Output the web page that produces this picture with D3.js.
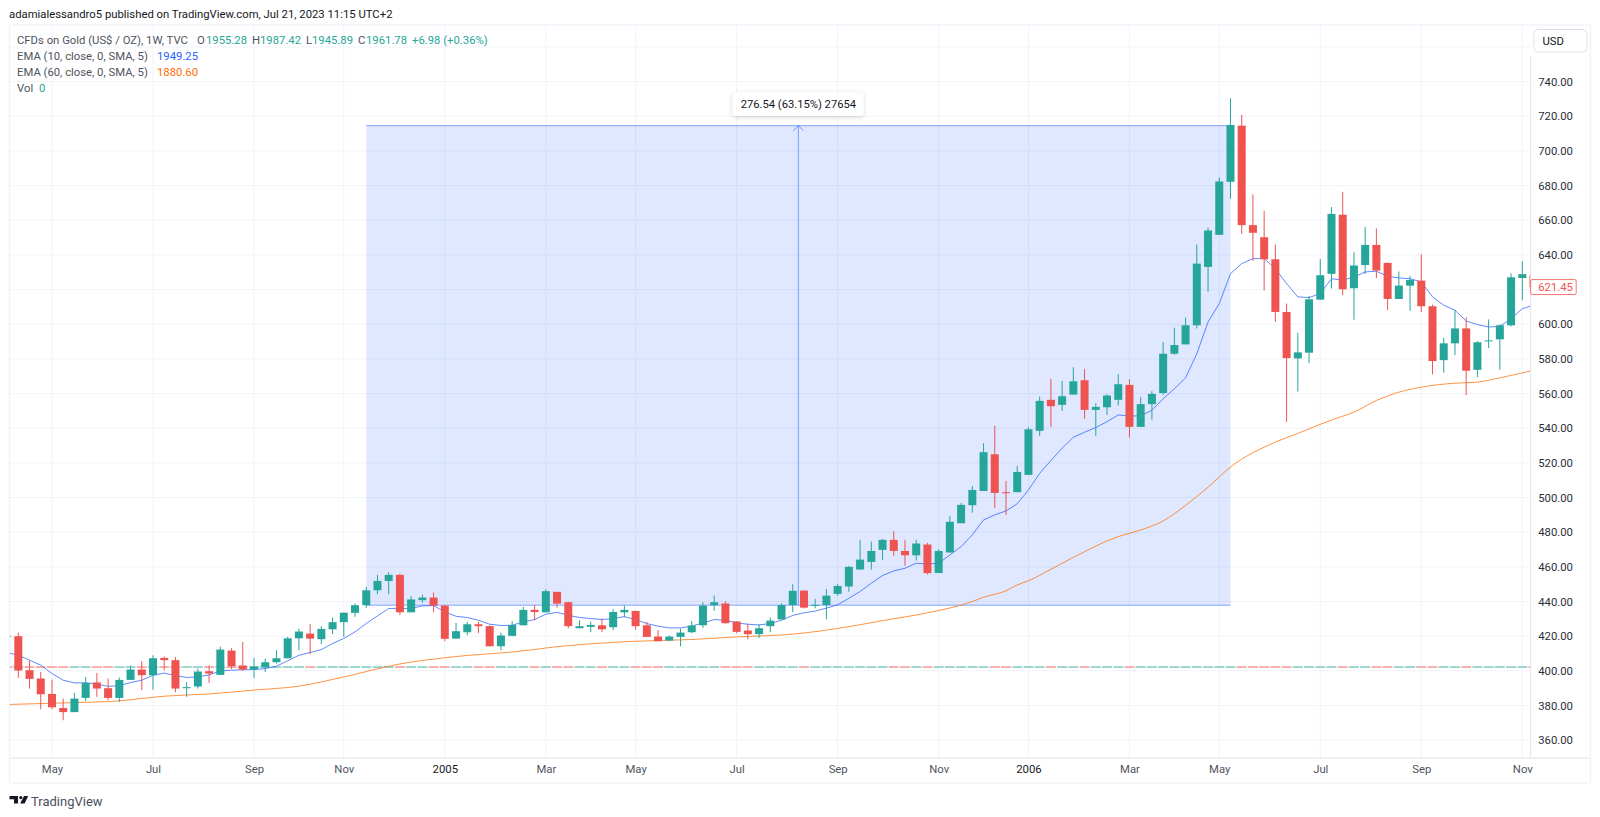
<!DOCTYPE html>
<html>
<head>
<meta charset="utf-8">
<script src="https://cdnjs.cloudflare.com/ajax/libs/d3/7.8.5/d3.min.js"></script>
<style>
html, body { margin: 0; padding: 0; background: #fff; overflow: hidden; }
svg { display: block; font-family: Roboto, sans-serif; }
</style>
</head>
<body>
<script>
// weekly candles, first entry is the one cut off at the left edge
var opens = [
    420.3, 420.0, 400.4, 395.6, 386.7, 378.6, 376.2, 384.4, 393.3, 390.0,
    384.4, 394.8, 400.8, 397.5, 407.5, 406.2, 390.0, 391.0, 399.8, 397.7,
    411.7, 403.1, 400.8, 402.1, 405.0, 407.3, 418.8, 421.5, 418.3, 424.0,
    428.1, 433.5, 437.9, 446.5, 451.9, 455.4, 433.8, 440.8, 442.3, 437.7,
    418.6, 422.3, 426.9, 425.8, 414.2, 420.2, 426.3, 435.2, 433.8, 445.6,
    439.6, 424.6, 425.4, 426.3, 425.2, 433.8, 434.6, 426.3, 419.8, 417.5,
    419.6, 422.3, 426.3, 437.9, 438.9, 428.5, 423.3, 421.2, 425.8, 429.7,
    438.0, 446.3, 437.9, 438.0, 444.4, 448.7, 458.5, 462.9, 469.8, 475.6,
    469.2, 466.7, 472.9, 456.5, 468.3, 485.2, 495.6, 503.8, 525.0, 503.1,
    503.1, 513.1, 538.5, 556.4, 553.5, 559.4, 567.7, 550.6, 552.1, 556.4,
    565.0, 540.8, 553.9, 560.3, 583.0, 588.4, 599.4, 633.1, 651.6, 682.2,
    714.6, 657.2, 650.2, 637.5, 607.1, 580.3, 583.6, 614.2, 629.1, 663.2,
    620.8, 634.2, 645.8, 635.4, 614.6, 622.3, 625.2, 610.4, 579.3, 589.0,
    597.6, 573.7, 590.3, 591.3, 599.4, 626.7, 628.3
];
var highs = [
    420.6, 422.1, 405.8, 399.4, 395.0, 384.0, 387.3, 396.5, 398.8, 395.6,
    396.2, 403.1, 405.6, 409.0, 408.3, 408.1, 393.5, 401.3, 403.1, 414.0,
    413.1, 416.7, 407.5, 407.0, 411.9, 419.6, 424.4, 427.1, 425.8, 430.8,
    433.6, 438.9, 448.5, 455.4, 456.9, 456.2, 443.1, 444.0, 445.2, 437.9,
    427.7, 428.3, 428.3, 426.3, 422.1, 428.7, 436.9, 437.9, 447.1, 445.6,
    439.8, 429.2, 428.3, 430.2, 435.6, 437.7, 434.6, 428.3, 423.5, 420.4,
    424.4, 428.7, 439.6, 443.5, 440.2, 428.7, 427.3, 426.8, 430.8, 439.0,
    450.0, 446.7, 441.5, 447.2, 450.2, 460.6, 475.6, 474.6, 476.2, 480.6,
    475.6, 475.6, 473.9, 470.2, 489.4, 496.9, 506.7, 531.4, 541.5, 509.6,
    518.3, 540.6, 558.3, 568.5, 567.3, 575.2, 574.2, 554.4, 559.6, 571.2,
    568.3, 558.1, 561.4, 589.8, 598.0, 603.8, 646.0, 655.8, 684.7, 730.4,
    720.8, 674.9, 665.5, 646.0, 611.9, 595.1, 616.3, 637.7, 667.6, 676.4,
    641.6, 656.2, 655.3, 635.6, 630.4, 627.9, 640.4, 611.3, 592.2, 608.1,
    604.0, 590.3, 602.8, 600.0, 629.4, 636.4, 629.5
];
var lows = [
    419.6, 396.0, 389.8, 377.9, 377.9, 371.5, 376.2, 382.7, 385.0, 383.1,
    382.1, 394.8, 388.9, 389.2, 400.4, 387.7, 385.0, 389.8, 393.1, 397.7,
    401.0, 400.0, 395.8, 399.4, 404.2, 407.1, 411.9, 409.6, 415.4, 421.2,
    419.6, 431.2, 436.2, 444.2, 444.2, 432.3, 433.8, 439.2, 433.8, 417.1,
    418.6, 420.6, 421.9, 414.2, 411.9, 420.0, 426.3, 429.2, 433.8, 436.5,
    424.6, 424.6, 422.3, 422.3, 423.5, 430.8, 423.8, 419.6, 417.1, 417.1,
    414.2, 421.7, 424.8, 434.6, 427.3, 421.7, 418.1, 419.0, 422.3, 429.7,
    433.8, 436.0, 436.1, 429.7, 443.3, 445.6, 458.5, 458.3, 464.0, 466.5,
    460.6, 463.7, 455.6, 456.4, 468.3, 485.2, 491.2, 503.8, 494.0, 490.0,
    503.1, 513.1, 535.6, 540.6, 550.0, 559.4, 545.4, 535.6, 547.7, 553.1,
    534.6, 540.8, 545.0, 559.3, 582.4, 588.4, 597.6, 618.8, 651.6, 672.4,
    652.2, 636.6, 619.6, 601.5, 543.6, 561.2, 577.6, 614.2, 620.6, 616.7,
    602.6, 628.9, 626.7, 608.1, 614.6, 607.7, 607.1, 571.1, 572.0, 582.2,
    559.1, 569.5, 586.3, 573.7, 598.8, 613.8, 619.0
];
var closes = [
    419.9, 400.2, 395.4, 386.5, 379.0, 376.2, 384.0, 393.1, 389.8, 384.4,
    394.8, 400.8, 397.5, 407.3, 406.2, 389.8, 390.6, 399.6, 398.5, 412.3,
    402.7, 400.8, 402.5, 405.0, 407.3, 418.8, 422.7, 418.6, 424.2, 428.1,
    433.6, 437.9, 446.5, 451.9, 455.4, 433.8, 441.2, 442.3, 437.7, 418.5,
    422.9, 426.9, 425.8, 414.2, 420.4, 426.5, 435.2, 434.0, 446.0, 438.8,
    425.8, 425.8, 426.5, 424.0, 434.0, 435.2, 425.8, 419.6, 417.1, 419.8,
    422.1, 426.2, 437.7, 439.6, 427.5, 422.5, 421.2, 424.6, 429.0, 438.0,
    446.2, 436.5, 438.1, 443.4, 449.0, 460.0, 464.2, 469.2, 475.6, 469.2,
    466.7, 473.5, 456.4, 469.2, 486.0, 495.8, 504.4, 526.2, 502.7, 502.7,
    514.8, 539.4, 555.8, 552.7, 558.5, 567.1, 550.6, 552.3, 558.9, 565.4,
    540.8, 553.9, 559.8, 583.0, 588.0, 599.4, 635.0, 654.1, 682.4, 715.0,
    657.2, 652.8, 637.5, 607.1, 580.5, 583.8, 614.4, 628.3, 663.7, 620.2,
    633.9, 645.8, 631.0, 614.6, 622.3, 625.6, 610.4, 578.8, 589.0, 597.6,
    573.2, 589.6, 590.7, 599.4, 627.1, 628.9, 621.45
];

// EMA 10, one value per candle
var ema10 = [
    410.6, 409.0, 406.2, 403.3, 398.5, 394.6, 393.1, 393.1, 392.3, 391.1,
    391.5, 393.3, 394.6, 397.5, 398.7, 397.3, 396.2, 396.5, 397.7, 400.0,
    400.4, 400.6, 400.8, 401.3, 402.7, 405.8, 409.0, 410.6, 412.3, 415.8,
    418.7, 422.5, 427.3, 431.7, 436.0, 436.1, 436.0, 437.5, 437.7, 434.0,
    431.5, 430.8, 429.2, 426.9, 426.2, 426.3, 428.3, 429.6, 432.7, 433.8,
    432.1, 430.8, 430.2, 429.6, 430.2, 431.3, 429.6, 427.3, 425.8, 424.8,
    424.8, 425.8, 427.7, 429.6, 429.2, 427.7, 426.9, 426.5, 427.3, 429.2,
    432.0, 433.5, 434.5, 436.2, 438.1, 441.9, 445.8, 450.6, 455.0, 457.7,
    459.2, 462.1, 461.7, 462.1, 466.9, 471.7, 478.5, 487.1, 490.0, 492.3,
    496.4, 504.4, 514.0, 521.4, 528.5, 534.8, 537.7, 540.4, 543.8, 547.7,
    547.1, 547.1, 550.4, 557.0, 562.8, 569.1, 583.0, 601.3, 611.9, 629.2,
    635.0, 637.9, 637.9, 632.1, 623.5, 615.8, 615.4, 617.7, 626.3, 625.4,
    627.3, 630.2, 630.6, 627.7, 626.7, 626.3, 624.4, 615.8, 611.0, 608.1,
    601.9, 599.8, 598.4, 598.8, 603.2, 609.0, 611.0
];

// EMA 60, read at the candles where it can be seen clearly
var ema60Index = [0, 5, 10, 14, 18, 22, 26, 30, 35, 39, 47, 48, 52, 56, 61, 65, 70, 75, 78, 82, 86, 87, 89, 90, 91, 93, 95, 99, 101, 103, 105, 107, 109, 113, 115, 118, 120, 122, 124, 126, 129, 131, 133, 136];
var ema60 = [380.6, 381.5, 382.7, 385.4, 386.7, 388.9, 391.2, 396.5, 404.0, 407.6, 412.3, 413.2, 415.6, 417.1, 418.1, 419.6, 421.2, 425.5, 429.0, 433.5, 440.0, 442.5, 446.2, 449.6, 452.0, 458.6, 465.5, 477.5, 481.3, 486.5, 495.5, 506.0, 517.6, 532.0, 537.0, 544.8, 549.3, 556.0, 560.8, 563.7, 566.0, 566.6, 569.1, 573.4];

// tick labels
var priceTicks = [360, 380, 400, 420, 440, 460, 480, 500, 520, 540, 560, 580, 600, 620, 640, 660, 680, 700, 720, 740];
var gridPrices = priceTicks.concat([760]);
var timeIndex = [4, 13, 22, 30, 39, 48, 56, 65, 74, 83, 91, 100, 108, 117, 126, 135];
var timeLabels = ["May", "Jul", "Sep", "Nov", "2005", "Mar", "May", "Jul", "Sep", "Nov", "2006", "Mar", "May", "Jul", "Sep", "Nov"];

// price range tool
var rangeFrom = 32, rangeTo = 109;
var rangeLow = 437.9, rangeHigh = 714.6;
var volZero = 0;
var lastPrice = 621.45;

window.onload = function(){

    var w = 1600, h = 817;
    var plotL = 10, plotR = 1530.7, plotT = 25, plotB = 758;
    var upColor = "#26a69a", downColor = "#ef5350";
    var fontSize = "11.3px";

    var svg = d3.select("body")
        .append("svg")
        .attr("width", w)
        .attr("height", h);

    var x = d3.scaleLinear()
        .domain([0, 135])
        .range([7.08, 1522.3]);

    // 1.733 px per dollar, 720 sits at y=116.3
    var y = d3.scaleLinear()
        .domain([720, 360])
        .range([116.3, 740.2]);

    var defs = svg.append("defs");
    defs.append("clipPath").attr("id", "plot")
        .append("rect")
        .attr("x", plotL).attr("y", plotT)
        .attr("width", plotR - plotL).attr("height", plotB - plotT);
    var blur = defs.append("filter").attr("id", "shadow")
        .attr("x", "-10%").attr("y", "-30%").attr("width", "120%").attr("height", "170%");
    blur.append("feDropShadow")
        .attr("dx", 0).attr("dy", 1).attr("stdDeviation", 2)
        .attr("flood-color", "#000").attr("flood-opacity", 0.18);

    // outer frame
    svg.append("rect")
        .attr("x", 9.5).attr("y", 25)
        .attr("width", 1581).attr("height", 758)
        .style("fill", "none").style("stroke", "#f0f3fa").style("stroke-width", 1.5);

    var plot = svg.append("g").attr("clip-path", "url(#plot)");

    // grid
    plot.selectAll(".hgrid")
        .data(gridPrices)
        .enter().append("line")
        .attr("x1", plotL).attr("x2", plotR)
        .attr("y1", function(d){ return y(d); })
        .attr("y2", function(d){ return y(d); })
        .style("stroke", "#f0f3fa");
    plot.selectAll(".vgrid")
        .data(timeIndex)
        .enter().append("line")
        .attr("x1", function(d){ return x(d); })
        .attr("x2", function(d){ return x(d); })
        .attr("y1", plotT).attr("y2", plotB)
        .style("stroke", "#f0f3fa");

    // price range fill and its lines
    plot.append("rect")
        .attr("x", x(rangeFrom))
        .attr("y", y(rangeHigh))
        .attr("width", x(rangeTo) - x(rangeFrom))
        .attr("height", y(rangeLow) - y(rangeHigh))
        .style("fill", "#2962ff")
        .style("fill-opacity", 0.15);
    plot.selectAll(".rangeLine")
        .data([rangeLow, rangeHigh])
        .enter().append("line")
        .attr("x1", x(rangeFrom)).attr("x2", x(rangeTo))
        .attr("y1", function(d){ return y(d); })
        .attr("y2", function(d){ return y(d); })
        .style("stroke", "#2962ff")
        .style("stroke-opacity", 0.55);

    var midX = (x(rangeFrom) + x(rangeTo)) / 2;
    plot.append("line")
        .attr("x1", midX).attr("x2", midX)
        .attr("y1", y(rangeLow)).attr("y2", y(rangeHigh))
        .style("stroke", "#2962ff")
        .style("stroke-opacity", 0.55);
    plot.append("path")
        .attr("d", "M" + (midX - 5) + "," + (y(rangeHigh) + 5) + "L" + midX + "," + y(rangeHigh) + "L" + (midX + 5) + "," + (y(rangeHigh) + 5))
        .style("fill", "none")
        .style("stroke", "#2962ff")
        .style("stroke-opacity", 0.6);

    // the zero volume bars, one thin dash per candle
    plot.selectAll(".vol")
        .data(opens)
        .enter().append("rect")
        .attr("x", function(d, i){ return x(i) - 5; })
        .attr("y", y(402.2) - 0.75)
        .attr("width", 10)
        .attr("height", 1.5)
        .style("fill", function(d, i){ return closes[i] >= d ? upColor : downColor; })
        .style("fill-opacity", 0.6);

    // EMA lines go under the candles
    var ema10Line = d3.line()
        .x(function(d, i){ return x(i); })
        .y(function(d){ return y(d); });
    var ema60Line = d3.line()
        .curve(d3.curveMonotoneX)
        .x(function(d, i){ return x(ema60Index[i]); })
        .y(function(d){ return y(d); });

    plot.append("path")
        .datum(ema60)
        .attr("d", ema60Line)
        .style("fill", "none")
        .style("stroke", "#ff6d00")
        .style("stroke-opacity", 0.75);
    plot.append("path")
        .datum(ema10)
        .attr("d", ema10Line)
        .style("fill", "none")
        .style("stroke", "#2962ff")
        .style("stroke-opacity", 0.75);

    // candles
    var candles = plot.selectAll(".candle")
        .data(opens)
        .enter().append("g")
        .attr("class", "candle")
        .style("fill", function(d, i){ return closes[i] >= d ? upColor : downColor; })
        .style("stroke", function(d, i){ return closes[i] >= d ? upColor : downColor; });

    candles.append("line")
        .attr("x1", function(d, i){ return x(i); })
        .attr("x2", function(d, i){ return x(i); })
        .attr("y1", function(d, i){ return y(highs[i]); })
        .attr("y2", function(d, i){ return y(lows[i]); });

    candles.append("rect")
        .attr("x", function(d, i){ return x(i) - 4; })
        .attr("y", function(d, i){ return y(Math.max(d, closes[i])); })
        .attr("width", 8)
        .attr("height", function(d, i){
            return Math.max(1, Math.abs(y(d) - y(closes[i])));
        })
        .style("stroke", "none");

    // price axis
    var yAxis = d3.axisRight(y)
        .tickValues(priceTicks)
        .tickSize(0)
        .tickPadding(7.5)
        .tickFormat(d3.format(".2f"));
    var yAxisG = svg.append("g")
        .attr("transform", "translate(" + plotR + ",0)")
        .call(yAxis);
    yAxisG.select(".domain").remove();
    yAxisG.selectAll("text")
        .style("font-family", "Roboto")
        .style("font-size", fontSize)
        .style("fill", "#2a2e39");
    svg.append("line")
        .attr("x1", plotR).attr("x2", plotR)
        .attr("y1", 56).attr("y2", plotB)
        .style("stroke", "#e0e3eb");

    // time axis
    var xAxis = d3.axisBottom(x)
        .tickValues(timeIndex)
        .tickSize(0)
        .tickPadding(7)
        .tickFormat(function(d, i){ return timeLabels[i]; });
    var xAxisG = svg.append("g")
        .attr("transform", "translate(0," + plotB + ")")
        .call(xAxis);
    xAxisG.select(".domain").remove();
    xAxisG.selectAll("text")
        .style("font-family", "Roboto")
        .style("font-size", fontSize)
        .style("fill", function(d, i){ return timeLabels[i].length == 4 ? "#131722" : "#50535e"; });
    svg.append("line")
        .attr("x1", plotL).attr("x2", 1590)
        .attr("y1", plotB).attr("y2", plotB)
        .style("stroke", "#e0e3eb");

    // last price tag
    svg.append("rect")
        .attr("x", plotR).attr("y", y(lastPrice) - 7.5)
        .attr("width", 45.5).attr("height", 15)
        .attr("rx", 1.5)
        .style("fill", "#fff")
        .style("stroke", "#ef5350")
        .style("stroke-opacity", 0.8);
    svg.append("text")
        .attr("x", plotR + 7.5).attr("y", y(lastPrice) + 4)
        .style("font-size", fontSize)
        .style("fill", "#ef5350")
        .text(d3.format(".2f")(lastPrice));

    // currency button
    svg.append("rect")
        .attr("x", 1534).attr("y", 29.5)
        .attr("width", 53).attr("height", 22.5)
        .attr("rx", 4)
        .style("fill", "#fff")
        .style("stroke", "#e0e3eb");
    svg.append("text")
        .attr("x", 1542.5).attr("y", 44.8)
        .style("font-size", fontSize)
        .style("fill", "#131722")
        .text("USD");

    // range tool label
    svg.append("rect")
        .attr("x", 732.5).attr("y", 92.5)
        .attr("width", 131).attr("height", 23.5)
        .attr("rx", 3)
        .style("fill", "#fff")
        .style("filter", "url(#shadow)");
    svg.append("text")
        .attr("x", midX).attr("y", 108.2)
        .attr("text-anchor", "middle")
        .style("font-size", "11.2px")
        .style("fill", "#131722")
        .text("276.54 (63.15%) 27654");

    // header and legend
    var grey = "#50535e", green = "#26a69a";
    var legend = [
        { x: 9, y: 18, t: "adamialessandro5 published on TradingView.com, Jul 21, 2023 11:15 UTC+2", c: "#131722" },
        { x: 17, y: 43.5, t: "CFDs on Gold (US$ / OZ), 1W, TVC", c: grey },
        { x: 197, y: 43.5, t: "O", c: grey },
        { x: 206, y: 43.5, t: "1955.28", c: green },
        { x: 252, y: 43.5, t: "H", c: grey },
        { x: 260, y: 43.5, t: "1987.42", c: green },
        { x: 306, y: 43.5, t: "L", c: grey },
        { x: 312, y: 43.5, t: "1945.89", c: green },
        { x: 358, y: 43.5, t: "C", c: grey },
        { x: 366, y: 43.5, t: "1961.78", c: green },
        { x: 412, y: 43.5, t: "+6.98 (+0.36%)", c: green },
        { x: 17, y: 59.5, t: "EMA (10, close, 0, SMA, 5)", c: grey },
        { x: 157, y: 59.5, t: "1949.25", c: "#2962ff" },
        { x: 17, y: 75.5, t: "EMA (60, close, 0, SMA, 5)", c: grey },
        { x: 157, y: 75.5, t: "1880.60", c: "#ff6d00" },
        { x: 17, y: 91.5, t: "Vol", c: grey },
        { x: 39, y: 91.5, t: volZero, c: green }
    ];
    svg.selectAll(".legend")
        .data(legend)
        .enter().append("text")
        .attr("x", function(d){ return d.x; })
        .attr("y", function(d){ return d.y; })
        .style("font-size", fontSize)
        .style("fill", function(d){ return d.c; })
        .text(function(d){ return d.t; });

    // footer logo
    var logo = svg.append("g").style("fill", "#131722");
    logo.append("path").attr("d", "M9.5,796H18V803.4H14V799.2H9.5Z");
    logo.append("circle").attr("cx", 20.8).attr("cy", 797.6).attr("r", 1.6);
    logo.append("path").attr("d", "M24,796H28.2L24.6,803.4H20.2Z");
    svg.append("text")
        .attr("x", 31).attr("y", 805.5)
        .style("font-size", "13px")
        .style("fill", "#4a4e5c")
        .text("TradingView");
};
</script>
</body>
</html>
